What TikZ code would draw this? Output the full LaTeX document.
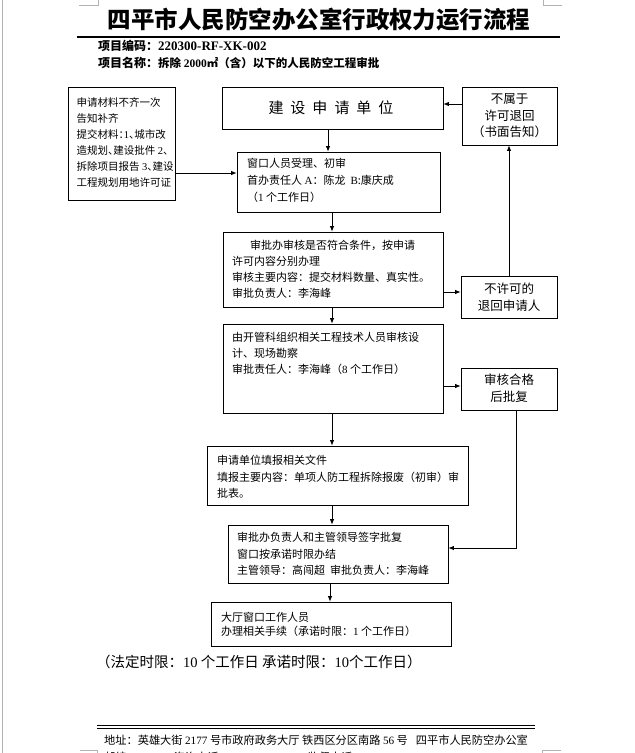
\documentclass[tikz,border=0pt]{standalone}
\usepackage{fontspec}
\setmainfont{Liberation Serif}
\newfontfamily\cjk{Noto Sans CJK SC}
\newfontfamily\cjkh{Noto Sans CJK SC}[RawFeature={+halt}]
\usetikzlibrary{arrows.meta}
\newcommand\ls[1]{{\rmfamily #1}}
\begin{document}
\begin{tikzpicture}[x=1pt,y=-1pt,
  box/.style={draw, line width=0.8pt, inner sep=0pt, rectangle},
  txt/.style={inner sep=0pt, anchor=north west, align=left, font=\cjk\fontsize{11}{16}\selectfont},
  ctxt/.style={inner sep=0pt, align=center, font=\cjk\fontsize{12.5}{16.5}\selectfont},
  arr/.style={line width=0.8pt, -{Latex[length=5.5pt,width=4.5pt]}},
  cornermark/.style={draw=gray!60, line width=0.6pt}]
\useasboundingbox (0,0) rectangle (635,753);
\fill[white] (0,0) rectangle (635,753);
% page decorations
\draw[gray!60, line width=0.7pt] (2.5,0) -- (2.5,753);
\draw[cornermark] (79,5) -- (98,5) -- (98,0);
\draw[cornermark] (562,5) -- (543,5) -- (543,0);
\draw[cornermark] (80,750) -- (97,750) -- (97,753);
\draw[cornermark] (561,750) -- (542,750) -- (542,753);
% title
\node[inner sep=0pt, font=\cjk\bfseries\fontsize{23.5}{28}\selectfont] (title) at (319,20) {四平市人民防空办公室行政权力运行流程};
\draw[line width=1.2pt] (77,37) -- (560,37);
\node[inner sep=0pt, anchor=west, font=\cjk\bfseries\fontsize{12}{14}\selectfont] (code) at (98,46) {项目编码：{\fontsize{13}{14}\selectfont\ls{220300-RF-XK-002}}};
\node[inner sep=0pt, anchor=west, font=\cjk\bfseries\fontsize{12}{14}\selectfont] (pname) at (98,63) {项目名称：{\fontsize{11.5}{14}\selectfont 拆除 \ls{2000}㎡（含）以下的人民防空工程审批}};
% boxes
\node[box, minimum width=107pt, minimum height=113pt] (L) at (121.5,143.5) {};
\node[box, minimum width=221pt, minimum height=42pt] (B) at (332.5,108) {};
\node[box, minimum width=95pt, minimum height=58pt] (N) at (509.5,116) {};
\node[box, minimum width=203pt, minimum height=60pt] (W) at (338.5,182) {};
\node[box, minimum width=220pt, minimum height=75pt] (S) at (333,269.5) {};
\node[box, minimum width=96pt, minimum height=42pt] (R) at (509,297) {};
\node[box, minimum width=220pt, minimum height=89pt] (K) at (333,368.5) {};
\node[box, minimum width=96pt, minimum height=42pt] (A) at (509,389) {};
\node[box, minimum width=261pt, minimum height=59pt] (F) at (337.5,475.5) {};
\node[box, minimum width=220pt, minimum height=58pt] (P) at (338,554) {};
\node[box, minimum width=240pt, minimum height=44pt] (H) at (331,624) {};
% texts
\node[txt, font=\cjkh\fontsize{10.5}{16}\selectfont] (Lt) at (76.5,97) {申请材料不齐一次\\告知补齐\\提交材料：\ls{1}、城市改\\造规划、建设批件 \ls{2}、\\拆除项目报告 \ls{3}、建设\\工程规划用地许可证};
\node[inner sep=0pt, font=\cjk\fontsize{15}{18}\selectfont] (Bt) at (331,108) {建\hspace{7pt}设\hspace{7pt}申\hspace{7pt}请\hspace{7pt}单\hspace{7pt}位};
\node[ctxt] (Nt) at (509.5,116) {不属于\\许可退回\\（书面告知）};
\node[txt, font=\cjk\fontsize{11}{17}\selectfont] (Wt) at (247,158) {窗口人员受理、初审\\首办责任人 \ls{A}：陈龙\ \ \ls{B}:康庆成\\（\ls{1} 个工作日）};
\node[txt] (St) at (232,240) {\hspace{18pt}审批办审核是否符合条件，按申请\\许可内容分别办理\\审核主要内容：提交材料数量、真实性。\\审批负责人：李海峰};
\node[ctxt] (Rt) at (509,297) {不许可的\\退回申请人};
\node[txt] (Kt) at (232,332) {由开管科组织相关工程技术人员审核设\\计、现场勘察\\审批责任人：李海峰（\ls{8} 个工作日）};
\node[ctxt] (At) at (509,388) {审核合格\\后批复};
\node[txt, font=\cjk\fontsize{11}{16.5}\selectfont] (Ft) at (217,455) {申请单位填报相关文件\\填报主要内容：单项人防工程拆除报废（初审）审\\批表。};
\node[txt, font=\cjk\fontsize{11}{16.5}\selectfont] (Pt) at (237,532) {审批办负责人和主管领导签字批复\\窗口按承诺时限办结\\主管领导：高闯超\ \ 审批负责人：李海峰};
\node[txt, font=\cjk\fontsize{11}{14}\selectfont] (Ht) at (221,612) {大厅窗口工作人员\\办理相关手续（承诺时限：\ls{1} 个工作日）};
\node[inner sep=0pt, anchor=west, font=\cjk\fontsize{14.5}{16}\selectfont] (limit) at (96,662) {（法定时限：\ls{10} 个工作日 承诺时限：\ls{10}个工作日）};
% footer
\draw[line width=0.9pt] (97,725) -- (535,725);
\draw[line width=0.9pt] (97,728.5) -- (535,728.5);
\node[inner sep=0pt, anchor=west, font=\cjk\fontsize{11.2}{14}\selectfont] (addr) at (104,740) {地址：英雄大街 \ls{2177} 号市政府政务大厅\ 铁西区分区南路 \ls{56} 号\hspace{8pt}四平市人民防空办公室};
\node[inner sep=0pt, anchor=west, font=\cjk\fontsize{11.2}{14}\selectfont] (post) at (104,757) {邮编：\ls{136000} 咨询电话：\ls{0434}－\ls{3260158}\ \ 监督电话：\ls{0434}－\ls{3260322}};
% connector helpers
\coordinate (x328) at (328,0);
\coordinate (x332) at (332,0);
\coordinate (x330) at (330,0);
\coordinate (x509) at (509,0);
\coordinate (x516) at (516,0);
\coordinate (y104) at (0,104);
\coordinate (y173) at (0,173);
\coordinate (y292) at (0,292);
\coordinate (y386) at (0,386);
\coordinate (y548) at (0,548);
% connectors
\draw[arr] (B.south -| x328) -- (W.north -| x328);
\draw[arr] (W.south -| x332) -- (S.north -| x332);
\draw[arr] (S.south -| x332) -- (K.north -| x332);
\draw[arr] (K.south -| x332) -- (F.north -| x332);
\draw[arr] (F.south -| x332) -- (P.north -| x332);
\draw[arr] (P.south -| x330) -- (H.north -| x330);
\draw[arr] (L.east |- y173) -- (W.west |- y173);
\draw[arr] (S.east |- y292) -- (R.west |- y292);
\draw[arr] (K.east |- y386) -- (A.west |- y386);
\draw[arr] (R.north -| x509) -- (N.south -| x509);
\draw[arr] (N.west |- y104) -- (B.east |- y104);
\draw[arr] (A.south -| x516) -- (x516 |- y548) -- (P.east |- y548);
\end{tikzpicture}
\end{document}
